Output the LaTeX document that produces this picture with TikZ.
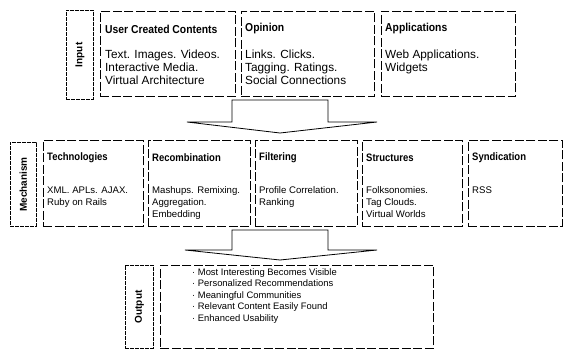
\documentclass[tikz,border=0pt]{standalone}
\usepackage{fontspec}
\setmainfont{Liberation Sans}
\newcommand{\ttlA}[1]{\scalebox{0.9}[1]{\fontsize{11.5}{13}\selectfont\bfseries #1}}
\newcommand{\ttlB}[1]{\scalebox{0.88}[1]{\fontsize{10.8}{12}\selectfont\bfseries #1}}
\begin{document}
\begin{tikzpicture}[x=1pt,y=-1pt,
  cbox/.style={draw, dash pattern=on 9pt off 2.5pt, line width=0.6pt, inner sep=0pt, anchor=north west},
  lbox/.style={draw, dash pattern=on 4pt off 1pt, line width=0.7pt, inner sep=0pt, anchor=north west,
               font=\fontsize{10}{12}\selectfont\bfseries},
  ttl/.style={anchor=west, inner sep=0pt},
  bodyA/.style={anchor=north west, inner sep=0pt, align=left, font=\fontsize{11.8}{13.2}\selectfont},
  bodyB/.style={anchor=north west, inner sep=0pt, align=left, font=\fontsize{9.6}{11.7}\selectfont},
  bodyC/.style={anchor=north west, inner sep=0pt, align=left, font=\fontsize{9.4}{11.5}\selectfont},
  blockarrow/.style={draw, fill=white, line width=0.8pt, line join=miter}
]
\useasboundingbox (0,0) rectangle (564,350);

% ---- Row 1: Input
\node[lbox, minimum width=27pt, minimum height=89pt] (inp) at (66,10) {\rotatebox{90}{Input}};
\node[cbox, minimum width=135pt, minimum height=85pt] (ucc) at (100,11) {};
\node[cbox, minimum width=133pt, minimum height=85pt] (opi) at (241,11) {};
\node[cbox, minimum width=134pt, minimum height=85pt] (app) at (381,11) {};

\node[ttl] (ucct) at ([xshift=5pt,yshift=-18pt]ucc.north west) {\ttlA{User Created Contents}};
\node[bodyA] (uccb) at ([xshift=5pt,yshift=-38.5pt]ucc.north west) {Text. Images. Videos.\\Interactive Media.\\Virtual Architecture};
\node[ttl] (opit) at ([xshift=4pt,yshift=-18pt]opi.north west) {\ttlA{Opinion}};
\node[bodyA] (opib) at ([xshift=4pt,yshift=-38.5pt]opi.north west) {Links. Clicks.\\Tagging. Ratings.\\Social Connections};
\node[ttl] (appt) at ([xshift=4pt,yshift=-18pt]app.north west) {\ttlA{Applications}};
\node[bodyA] (appb) at ([xshift=4pt,yshift=-38.5pt]app.north west) {Web Applications.\\Widgets};

% ---- Arrow 1
\coordinate (a1) at (232,100);
\coordinate (a2) at (328,100);
\coordinate (a3) at (328,122);
\coordinate (a4) at (377,122);
\coordinate (a5) at (280,133);
\coordinate (a6) at (187,122);
\coordinate (a7) at (232,122);
\draw[blockarrow] (a1) -- (a2) -- (a3) -- (a4) -- (a5) -- (a6) -- (a7) -- cycle;

% ---- Row 2: Mechanism
\node[lbox, minimum width=26pt, minimum height=84pt] (mech) at (10,142) {\rotatebox{90}{Mechanism}};
\node[cbox, minimum width=100pt, minimum height=86pt] (tech) at (43,140) {};
\node[cbox, minimum width=102pt, minimum height=86pt] (reco) at (148,140) {};
\node[cbox, minimum width=102pt, minimum height=86pt] (filt) at (255,140) {};
\node[cbox, minimum width=100pt, minimum height=86pt] (stru) at (362,140) {};
\node[cbox, minimum width=94pt, minimum height=86pt] (synd) at (468,140) {};

\node[ttl] (techt) at ([xshift=4pt,yshift=-18pt]tech.north west) {\ttlB{Technologies}};
\node[bodyB] (techb) at ([xshift=4pt,yshift=-46.5pt]tech.north west) {XML. APLs. AJAX.\\Ruby on Rails};
\node[ttl] (recot) at ([xshift=4pt,yshift=-18pt]reco.north west) {\ttlB{Recombination}};
\node[bodyB] (recob) at ([xshift=4pt,yshift=-46.5pt]reco.north west) {Mashups. Remixing.\\Aggregation.\\Embedding};
\node[ttl] (filtt) at ([xshift=4pt,yshift=-18pt]filt.north west) {\ttlB{Filtering}};
\node[bodyB] (filtb) at ([xshift=4pt,yshift=-46.5pt]filt.north west) {Profile Correlation.\\Ranking};
\node[ttl] (strut) at ([xshift=4pt,yshift=-18pt]stru.north west) {\ttlB{Structures}};
\node[bodyB] (strub) at ([xshift=4pt,yshift=-46.5pt]stru.north west) {Folksonomies.\\Tag Clouds.\\Virtual Worlds};
\node[ttl] (syndt) at ([xshift=4pt,yshift=-18pt]synd.north west) {\ttlB{Syndication}};
\node[bodyB] (syndb) at ([xshift=4pt,yshift=-46.5pt]synd.north west) {RSS};

% ---- Arrow 2
\coordinate (b1) at (232,230);
\coordinate (b2) at (328,230);
\coordinate (b3) at (328,250);
\coordinate (b4) at (377,250);
\coordinate (b5) at (280,260);
\coordinate (b6) at (185,250);
\coordinate (b7) at (232,250);
\draw[blockarrow] (b1) -- (b2) -- (b3) -- (b4) -- (b5) -- (b6) -- (b7) -- cycle;

% ---- Row 3: Output
\node[lbox, minimum width=28pt, minimum height=83pt] (outl) at (125,265) {\rotatebox{90}{Output}};
\node[cbox, minimum width=273pt, minimum height=83pt] (outb) at (160,265) {};
\node[bodyC] (outt) at (192,268) {· Most Interesting Becomes Visible\\· Personalized Recommendations\\· Meaningful Communities\\· Relevant Content Easily Found\\· Enhanced Usability};
\end{tikzpicture}
\end{document}
